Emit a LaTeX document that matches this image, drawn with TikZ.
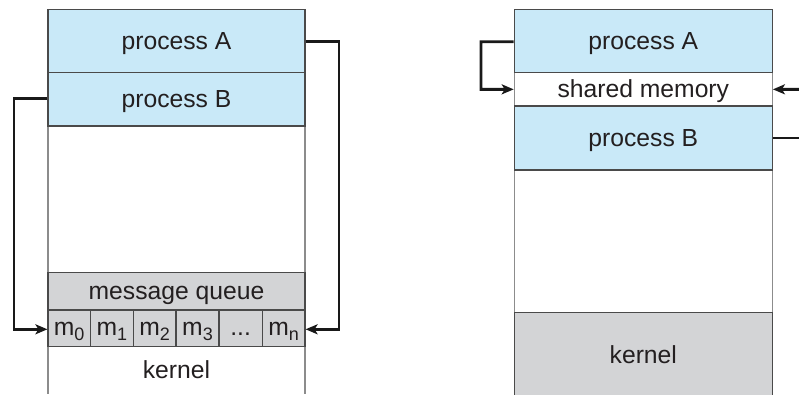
\documentclass[tikz,border=0pt]{standalone}
\usepackage{fontspec}
\setmainfont{Liberation Sans}
\usetikzlibrary{arrows.meta}
\definecolor{procblue}{HTML}{C9E9F8}
\definecolor{kgray}{HTML}{D3D4D6}
\definecolor{darkline}{HTML}{4A4A4A}
\definecolor{lightline}{HTML}{8C8C8C}
\definecolor{txt}{HTML}{231F20}
\newcommand{\msub}[1]{\raisebox{-0.45ex}{\fontsize{18}{18}\selectfont #1}}
\tikzset{
  region/.style={rectangle, inner sep=0pt, draw=darkline, line width=1.2pt, text=txt,
    font=\fontsize{24.7}{26}\selectfont, text height=22pt, text depth=5.2pt},
  blank/.style={region, draw=lightline, fill=white},
  proc/.style={region, fill=procblue},
  kern/.style={region, fill=kgray},
  cell/.style={kern, text height=18.6pt, text depth=5.2pt, minimum height=36.7pt},
  sides/.style={draw=lightline, line width=1.2pt},
  conn/.style={draw=black!90, line width=2.9pt},
  arr/.style={conn, -{Stealth[length=12pt,width=10pt,inset=3pt]}},
}
\begin{document}
\begin{tikzpicture}[x=1pt,y=-1pt]
\useasboundingbox (0,0) rectangle (799,394);
% ---------------- left: message passing ----------------
\node[blank, minimum width=257pt, minimum height=146.3pt] (lempty) at (176.5,199.15) {};
\draw[sides] (48,346.7) -- (48,394) (305,346.7) -- (305,394);
\node[region, draw=none] (lkernel) at (176.5,370.3) {kernel};
\node[proc, minimum width=257pt, minimum height=63pt] (lA) at (176.5,40.8) {process A};
\node[proc, minimum width=257pt, minimum height=53.7pt] (lB) at (176.5,99.15) {process B};
\node[kern, minimum width=257pt, minimum height=37.7pt] (mq) at (176.5,291.15) {message queue};
\node[cell, minimum width=42.3pt] (c0) at (69.15,328.35) {m\msub{0}};
\node[cell, minimum width=43pt] (c1) at (111.8,328.35) {m\msub{1}};
\node[cell, minimum width=42.7pt] (c2) at (154.65,328.35) {m\msub{2}};
\node[cell, minimum width=43pt] (c3) at (197.5,328.35) {m\msub{3}};
\node[cell, minimum width=43.3pt] (c4) at (240.65,328.35) {...};
\node[cell, minimum width=42.7pt] (c5) at (283.65,328.35) {m\msub{n}};
\draw[arr] (lA.east |- 0,41.7) -- (339,41.7) -- (339,329.3) -- (c5.east |- 0,329.3);
\draw[arr] (lB.west |- 0,98.7) -- (14,98.7) -- (14,329.3) -- (c0.west |- 0,329.3);
% ---------------- right: shared memory ----------------
\node[blank, minimum width=258pt, minimum height=142.7pt] (rempty) at (643.3,241.35) {};
\node[blank, minimum width=258pt, minimum height=33.3pt] (shm) at (643.3,89.35) {shared memory};
\node[kern, minimum width=258pt, minimum height=90pt] (rkernel) at (643.3,357.7) {};
\node[region, draw=none] (rklabel) at (643.3,355) {kernel};
\node[proc, minimum width=258pt, minimum height=63.4pt] (rA) at (643.3,41) {process A};
\node[proc, minimum width=258pt, minimum height=64pt] (rB) at (643.3,138) {process B};
\coordinate (rin) at (799,89.3);
\coordinate (rout) at (799,138);
\draw[arr] (rA.west |- 0,41.7) -- (481,41.7) -- (481,89.3) -- (shm.west);
\draw[arr] (rin) -- (shm.east);
\draw[conn] (rB.east) -- (rout);
\end{tikzpicture}
\end{document}
